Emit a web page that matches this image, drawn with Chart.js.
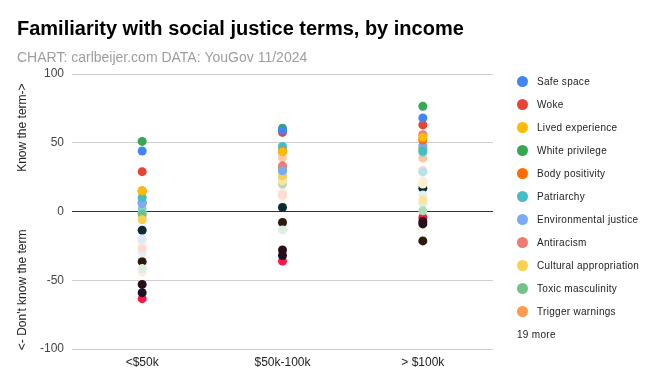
<!DOCTYPE html>
<html>
<head>
<meta charset="utf-8">
<script src="https://cdn.jsdelivr.net/npm/chart.js@4"></script>
<style>
  body { margin: 0; background: #fff; }
  #wrap { position: relative; width: 672px; height: 371px; }
</style>
</head>
<body>
<div id="wrap"><canvas id="chart" width="672" height="371"></canvas></div>
<script>
// Income groups on the x axis
const incomeGroups = ['<$50k', '$50k-100k', '> $100k'];

// Terms (first 11 shown in the legend, the rest folded into "19 more")
const terms = [
    'Safe space', 'Woke', 'Lived experience', 'White privilege', 'Body positivity',
    'Patriarchy', 'Environmental justice', 'Antiracism', 'Cultural appropriation',
    'Toxic masculinity', 'Trigger warnings', 'Microaggression', 'Systemic racism',
    'Implicit bias', 'Cancel culture', 'Gaslighting', 'Allyship', 'Equity',
    'Intersectionality', 'Cisgender', 'BIPOC', 'Heteronormativity', 'Decolonization',
    'Emotional labor', 'Critical race theory', 'Deadnaming', 'Latinx', 'Neopronouns',
    'Folx', 'Misgendering'
];

// Net familiarity (know - don't know) per income group, same order as terms
const under50k = [44, 29, 15, 51, 15, 10, 6, 6, -6, -2, 15, 2, 7, 7, -5, -1, 10, -4, -20, -27, -22.6, -41.5, -44, -30, -13.6, -36.5, -53, -59, -63.4, -25];
const from50to100k = [59, 57.5, 43.5, 60.6, 44, 47.3, 29.6, 33.2, 26, 32, 43.5, 45, 29, 32, 22.3, 20, 39.3, 25, 24, 12, 10.9, -13.4, 14, 21, 2.9, -8, -28, -32, -36, 5];
const over100k = [68, 63, 54, 76.5, 52, 44, 47.8, 55.8, 45, 46, 53, 43, 46, 55, 8.5, 0.5, 38.8, 28.8, 45, 30, 20, 6, 22, 12, 17, -21.4, -7.3, -9, -4.4, -12];

const yTicks = [-100, -50, 0, 50, 100];

const colors = [
    '#4285F4', '#EA4335', '#FBBC04', '#34A853', '#FF6D01', '#46BDC6', '#7BAAF7', '#F07B72',
    '#FCD04F', '#71C287', '#FF994D', '#7ED1D7', '#B3CEFB', '#F7B4AE', '#FDE49B', '#AEDCBA',
    '#FFC8A0', '#B5E5E9', '#DCE8FD', '#FBDAD7', '#FEF1CD', '#DDEFE2', '#FFEBDC', '#DFF3F5',
    '#0B2B33', '#2B1B0B', '#2A0E1A', '#1C1226', '#FF1744', '#FFF4EA'
];

const legendCount = 11;

// Titles, the split y axis title and the legend
const decorPlugin = {
    id: 'decor',
    afterDraw(chart) {
        const ctx = chart.ctx;
        const y = chart.scales.y;
        ctx.save();
        ctx.textAlign = 'left';
        ctx.textBaseline = 'alphabetic';
        ctx.fillStyle = '#000';
        ctx.font = 'bold 20px Arial';
        ctx.fillText('Familiarity with social justice terms, by income', 17, 35);
        ctx.fillStyle = '#9e9e9e';
        ctx.font = '14px Arial';
        ctx.fillText('CHART: carlbeijer.com DATA: YouGov 11/2024', 17, 62);

        ctx.fillStyle = '#222';
        ctx.font = '12px Arial';
        ctx.textAlign = 'center';
        ctx.textBaseline = 'middle';
        [['Know the term->', 61], ["<- Don't know the term", -57]].forEach(([txt, v]) => {
            ctx.save();
            ctx.translate(23, y.getPixelForValue(v));
            ctx.rotate(-Math.PI / 2);
            ctx.fillText(txt, 0, 0);
            ctx.restore();
        });

        ctx.textAlign = 'left';
        ctx.font = '10px Arial';
        ctx.letterSpacing = '0.3px';
        for (let i = 0; i < legendCount; i++) {
            const cy = 81.5 + i * 23;
            ctx.fillStyle = colors[i];
            ctx.beginPath();
            ctx.arc(522.5, cy, 5.5, 0, Math.PI * 2);
            ctx.fill();
            ctx.fillStyle = '#222';
            ctx.fillText(terms[i], 537, cy + 0.5);
        }
        ctx.fillText((terms.length - legendCount) + ' more', 517, 335);
        ctx.restore();
    }
};

function initChart() {
    const datasets = terms.map((term, i) => ({
        label: term,
        data: [under50k[i], from50to100k[i], over100k[i]],
        backgroundColor: colors[i],
        borderColor: colors[i],
        pointBackgroundColor: colors[i],
        pointBorderWidth: 0,
        pointRadius: 4.5,
        pointHoverRadius: 4.5,
        showLine: false
    }));

    new Chart(document.getElementById('chart').getContext('2d'), {
        type: 'line',
        data: { labels: incomeGroups, datasets: datasets },
        options: {
            responsive: false,
            animation: false,
            devicePixelRatio: 1,
            layout: { padding: { left: 17, right: 179, top: 74, bottom: 0 } },
            plugins: { legend: { display: false }, tooltip: { enabled: false } },
            scales: {
                x: {
                    offset: true,
                    grid: { display: false, drawTicks: false },
                    border: { display: false },
                    ticks: { color: '#222', font: { family: 'Arial', size: 12 }, padding: 6 },
                    afterFit: (s) => { s.height = 22; }
                },
                y: {
                    min: yTicks[0],
                    max: yTicks[yTicks.length - 1],
                    afterBuildTicks: (s) => { s.ticks = yTicks.map(v => ({ value: v })); },
                    grid: {
                        drawTicks: false,
                        color: (c) => c.tick && c.tick.value === 0 ? '#333' : '#d0d0d0'
                    },
                    border: { display: false },
                    ticks: { color: '#444', font: { family: 'Arial', size: 12 }, padding: 8 },
                    afterFit: (s) => { s.width = 55; }
                }
            }
        },
        plugins: [decorPlugin]
    });
}

document.addEventListener('DOMContentLoaded', initChart);
</script>
</body>
</html>
